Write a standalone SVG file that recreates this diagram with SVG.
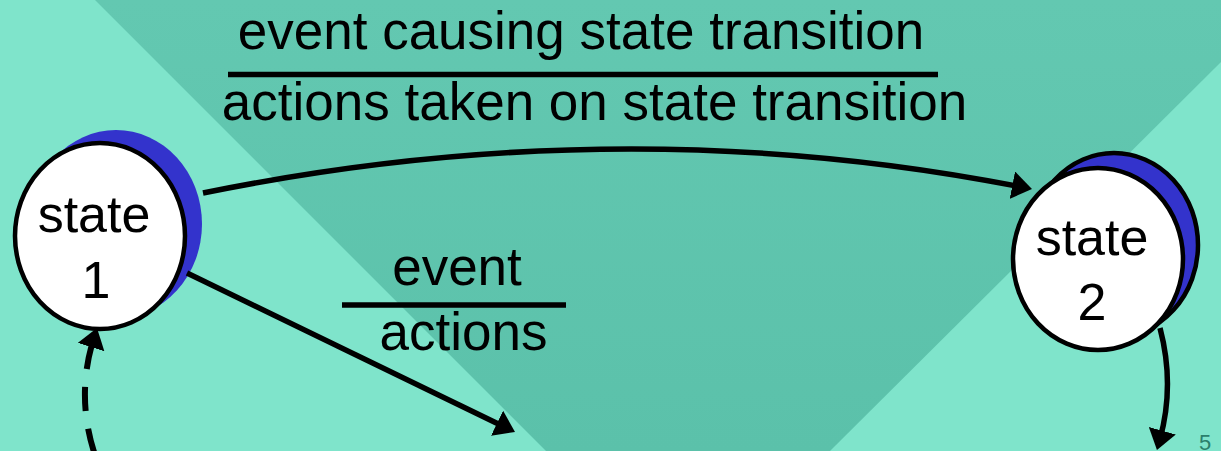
<svg xmlns="http://www.w3.org/2000/svg" width="1221" height="451" viewBox="0 0 1221 451">
<style>
.lbl{font-family:"Liberation Sans",Arial,sans-serif;font-size:53px;fill:#000;text-anchor:middle}
.st{font-family:"Liberation Sans",Arial,sans-serif;font-size:52px;fill:#000;text-anchor:middle}
.bar{stroke:#000;stroke-width:5.5}
.conn{fill:none;stroke:#000;stroke-width:5.5}
.dash{stroke-width:6;stroke-dasharray:24 18}
.node{fill:#fff;stroke:#000;stroke-width:4.5}
.shadow{fill:#3333cc}
</style>
<defs>
<linearGradient id="dk" x1="0" y1="0" x2="0" y2="1">
<stop offset="0" stop-color="#63c8b1"/>
<stop offset="1" stop-color="#5bc1aa"/>
</linearGradient>
<marker id="ah" markerUnits="userSpaceOnUse" markerWidth="20" markerHeight="28" viewBox="0 0 20 28" refX="9" refY="14" orient="auto">
<path d="M0,0 L20,14 L0,28 z" fill="#000"/>
</marker>
</defs>
<rect width="1221" height="451" fill="#7fe4cb"/>
<polygon points="95,0 1221,0 1221,62 830,451 546,451" fill="url(#dk)"/>
<g id="labels">
<text class="lbl" x="581" y="49">event causing state transition</text>
<line class="bar" x1="228" y1="74.5" x2="938" y2="74.5"/>
<text class="lbl" x="594.5" y="120">actions taken on state transition</text>
<text class="lbl" x="457" y="285">event</text>
<line class="bar" x1="342" y1="305" x2="566" y2="305"/>
<text class="lbl" x="463.5" y="350">actions</text>
</g>
<g id="state1">
<ellipse class="shadow" cx="116" cy="224" rx="86" ry="94"/>
<ellipse class="node" cx="100" cy="236" rx="85" ry="93"/>
<text class="st" x="94" y="232">state</text>
<text class="st" x="96" y="298">1</text>
</g>
<g id="state2">
<ellipse class="shadow" cx="1114" cy="245" rx="84" ry="92" stroke="#000" stroke-width="4.5"/>
<ellipse class="node" cx="1098" cy="259" rx="85" ry="91"/>
<text class="st" x="1092" y="255">state</text>
<text class="st" x="1092" y="320">2</text>
</g>
<g id="connectors">
<path class="conn" d="M203,193 Q620,108 1021.2,186.9" marker-end="url(#ah)"/>
<path class="conn" d="M187,273 L505.1,427.2" marker-end="url(#ah)"/>
<path class="conn dash" d="M94,452 Q76,395 93.7,338.5" marker-end="url(#ah)"/>
<path class="conn" d="M1160,328 Q1175,385 1159.9,439.4" marker-end="url(#ah)"/>
</g>
<text x="1199" y="450" font-family="Liberation Sans, Arial, sans-serif" font-size="22" fill="#2b7f6c">5</text>
</svg>
